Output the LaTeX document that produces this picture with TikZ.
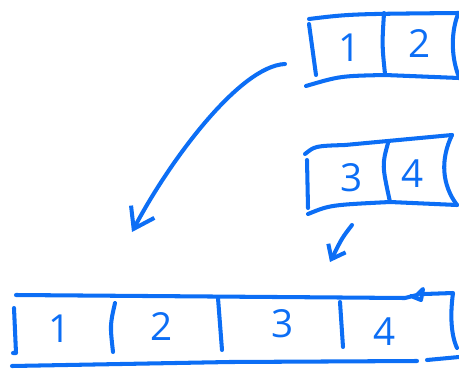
\documentclass[tikz,border=0pt]{standalone}
\usepackage{fontspec}
\setsansfont{Open Sans}
\usetikzlibrary{arrows.meta}
\definecolor{pen}{RGB}{12,110,245}

\begin{document}
\begin{tikzpicture}[
    x=0.02cm, y=-0.02cm,
    ink/.style={draw=pen, line width=2.3pt, line cap=round, line join=round},
    digit/.style={text=pen, inner sep=0pt, font=\sffamily\fontsize{22}{24}\selectfont},
    bigarrow/.style={ink, -{Straight Barb[length=11pt, width=15pt]}},
    smallarrow/.style={ink, -{Straight Barb[length=7pt, width=11pt]}},
]
    \path[use as bounding box, clip] (0,0) rectangle (459,368);

    % first chunk: 1 | 2
    \draw[ink] (309,19) .. controls (350,14) .. (459,13);
    \draw[ink] (306,86) .. controls (340,76) .. (385,75) -- (459,78);
    \draw[ink] (309,24) -- (316,75);
    \draw[ink] (384,13) .. controls (382,45) .. (385,74);
    \draw[ink] (458,14) .. controls (450,35) and (452,60) .. (459,77);
    \node (top1) [digit] at (350,48) {1};
    \node (top2) [digit] at (420,44) {2};

    % second chunk: 3 | 4
    \draw[ink] (305,154) .. controls (315,146) .. (345,145) -- (452,135);
    \draw[ink] (308,214) .. controls (330,205) .. (390,202) -- (457,205);
    \draw[ink] (307,160) -- (308,208);
    \draw[ink] (388,143) .. controls (382,165) .. (390,202);
    \draw[ink] (452,135) .. controls (440,160) and (442,185) .. (457,205);
    \node (mid3) [digit] at (352,178) {3};
    \node (mid4) [digit] at (413,174) {4};

    % joined: 1 | 2 | 3 | 4
    \draw[ink] (16,295) -- (405,298) -- (417,295) -- (423,289) -- (421,300) -- (411,296);
    \draw[ink] (424,294) -- (453,293) .. controls (450,315) and (451,335) .. (457,348);
    \draw[ink] (12,366) -- (230,362) -- (417,361);
    \draw[ink] (427,360) -- (459,357);
    \draw[ink] (14,308) -- (16,353) -- (13,353);
    \draw[ink] (115,303) .. controls (110,325) .. (113,352);
    \draw[ink] (218,298) -- (222,350);
    \draw[ink] (340,302) -- (343,347);
    \node (all1) [digit] at (60,329) {1};
    \node (all2) [digit] at (162,326) {2};
    \node (all3) [digit] at (283,324) {3};
    \node (all4) [digit] at (385,332) {4};

    % arrows
    \coordinate (from_top) at (285,64);
    \coordinate (to_all) at (132,232);
    \coordinate (from_mid) at (352,225);
    \coordinate (to_all2) at (330,262);
    \draw[bigarrow] (from_top) .. controls (240,66) and (170,160) .. (to_all);
    \draw[smallarrow] (from_mid) .. controls (342,238) .. (to_all2);

\end{tikzpicture}
\end{document}
